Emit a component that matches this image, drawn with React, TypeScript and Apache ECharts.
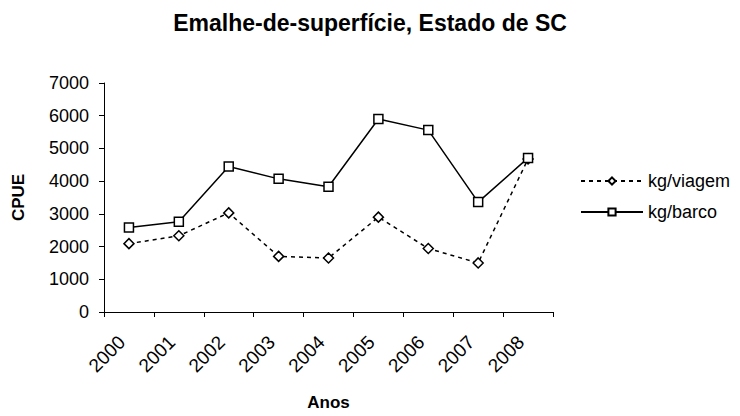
import React, { useEffect, useRef } from "react";
import * as echarts from "echarts";

const years = ["2000", "2001", "2002", "2003", "2004", "2005", "2006", "2007", "2008"];
const kgViagem = [2090, 2330, 3030, 1700, 1650, 2900, 1940, 1500, 4680];
const kgBarco = [2580, 2760, 4450, 4070, 3830, 5900, 5560, 3360, 4710];
const yTicks = { min: 0, max: 7000, interval: 1000 };

const FONT = "'Liberation Sans', Arial, sans-serif";

export default function App() {
  const ref = useRef<HTMLDivElement>(null);
  useEffect(() => {
    if (!ref.current) return;
    const chart = echarts.init(ref.current, undefined, { renderer: "svg" });
    chart.setOption({
      animation: false,
      backgroundColor: "#fff",
      textStyle: { fontFamily: FONT },
      title: {
        text: "Emalhe-de-superfície, Estado de SC",
        left: "center",
        top: 6,
        textStyle: { fontFamily: FONT, fontSize: 23, fontWeight: "bold", color: "#000" },
      },
      legend: {
        orient: "vertical",
        left: 575,
        top: 167,
        itemWidth: 62,
        itemHeight: 9,
        itemGap: 13,
        textStyle: { fontFamily: FONT, fontSize: 18, color: "#000" },
        data: ["kg/viagem", "kg/barco"],
      },
      grid: { left: 104, right: 187, top: 83, bottom: 103 },
      xAxis: {
        type: "category",
        data: years,
        boundaryGap: true,
        name: "Anos",
        nameLocation: "middle",
        nameGap: 82,
        nameTextStyle: { fontFamily: FONT, fontSize: 17, fontWeight: "bold", color: "#000" },
        axisLine: { lineStyle: { color: "#000", width: 1 } },
        axisTick: { show: true, length: 5, lineStyle: { color: "#000" } },
        axisLabel: {
          rotate: 45,
          fontFamily: FONT,
          fontSize: 19,
          color: "#000",
          margin: 20,
          padding: [0, 10, 0, 0],
        },
        splitLine: { show: false },
      },
      yAxis: {
        type: "value",
        min: yTicks.min,
        max: yTicks.max,
        interval: yTicks.interval,
        name: "CPUE",
        nameLocation: "middle",
        nameRotate: 90,
        nameGap: 77,
        nameTextStyle: { fontFamily: FONT, fontSize: 17, fontWeight: "bold", color: "#000" },
        axisLine: { show: true, lineStyle: { color: "#000", width: 1 } },
        axisTick: { show: true, length: 5, lineStyle: { color: "#000" } },
        axisLabel: {
          fontFamily: FONT,
          fontSize: 18,
          color: "#000",
          margin: 15,
          formatter: (v: number) => String(v),
        },
        splitLine: { show: false },
      },
      series: [
        {
          name: "kg/viagem",
          type: "line",
          data: kgViagem,
          symbol: "diamond",
          symbolSize: 10,
          itemStyle: { color: "#fff", borderColor: "#000", borderWidth: 1.5 },
          lineStyle: { color: "#000", width: 1.5, type: [4, 4] },
          z: 2,
        },
        {
          name: "kg/barco",
          type: "line",
          data: kgBarco,
          symbol: "rect",
          symbolSize: 9,
          itemStyle: { color: "#fff", borderColor: "#000", borderWidth: 1.5 },
          lineStyle: { color: "#000", width: 1.5, type: "solid" },
          z: 3,
        },
      ],
    });
    return () => chart.dispose();
  }, []);
  return <div ref={ref} style={{ width: 740, height: 416, margin: -8 }} />;
}
